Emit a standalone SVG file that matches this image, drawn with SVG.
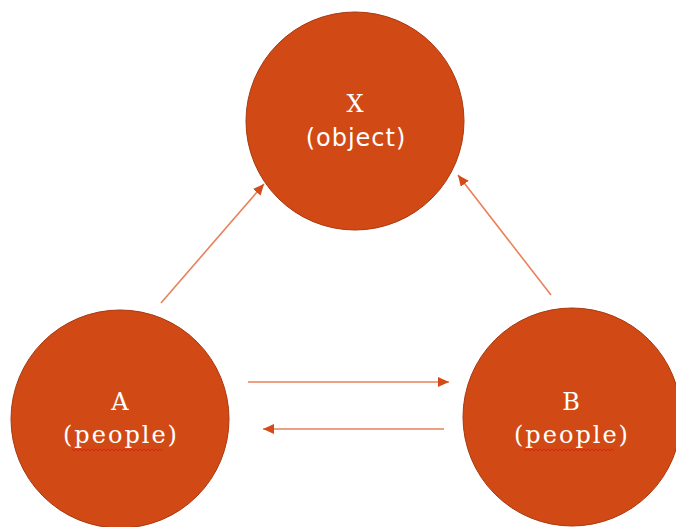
<svg xmlns="http://www.w3.org/2000/svg" width="676" height="527" viewBox="0 0 676 527">
<style>
.node{fill:#D14A16;stroke:#A8380F;stroke-width:1}
.lbl{fill:#ffffff;font-family:"DejaVu Serif","Liberation Serif",serif;font-size:24px;letter-spacing:2px;text-anchor:middle}
.sub{fill:#ffffff;font-family:"DejaVu Sans","Liberation Sans",sans-serif;font-size:24px;letter-spacing:1px;text-anchor:middle}
.edge{stroke:#E9815A;stroke-width:1.6;fill:none;marker-end:url(#ah)}
.sq{stroke:#E0201A;stroke-width:1;fill:none}
</style>
<defs>
<marker id="ah" markerUnits="userSpaceOnUse" markerWidth="12" markerHeight="10" refX="11" refY="5" orient="auto">
<path d="M0,0 L11,5 L0,10 Z" fill="#D44A18"/>
</marker>
</defs>
<rect width="676" height="527" fill="#ffffff"/>
<g id="connectors">
<line class="edge" x1="161" y1="303" x2="264" y2="184"/>
<line class="edge" x1="551" y1="295" x2="458" y2="175"/>
<line class="edge" x1="248" y1="382" x2="449" y2="382"/>
<line class="edge" x1="444" y1="429" x2="263" y2="429"/>
</g>
<g id="X">
<circle class="node" cx="355" cy="121" r="109"/>
<text class="lbl" x="356" y="112">X</text>
<text class="sub" x="356" y="146">(object)</text>
</g>
<g id="A">
<circle class="node" cx="120" cy="419" r="109"/>
<text class="lbl" x="121" y="410">A</text>
<text class="lbl" x="121" y="443">(people)</text>
<path class="sq" d="M72,449 l2,2 l2,-2 l2,2 l2,-2 l2,2 l2,-2 l2,2 l2,-2 l2,2 l2,-2 l2,2 l2,-2 l2,2 l2,-2 l2,2 l2,-2 l2,2 l2,-2 l2,2 l2,-2 l2,2 l2,-2 l2,2 l2,-2 l2,2 l2,-2 l2,2 l2,-2 l2,2 l2,-2 l2,2 l2,-2 l2,2 l2,-2 l2,2 l2,-2 l2,2 l2,-2 l2,2 l2,-2 l2,2 l2,-2 l2,2 l2,-2 l2,2"/>
</g>
<g id="B">
<circle class="node" cx="572" cy="417" r="109"/>
<text class="lbl" x="572" y="410">B</text>
<text class="lbl" x="572" y="443">(people)</text>
<path class="sq" d="M524,449 l2,2 l2,-2 l2,2 l2,-2 l2,2 l2,-2 l2,2 l2,-2 l2,2 l2,-2 l2,2 l2,-2 l2,2 l2,-2 l2,2 l2,-2 l2,2 l2,-2 l2,2 l2,-2 l2,2 l2,-2 l2,2 l2,-2 l2,2 l2,-2 l2,2 l2,-2 l2,2 l2,-2 l2,2 l2,-2 l2,2 l2,-2 l2,2 l2,-2 l2,2 l2,-2 l2,2 l2,-2 l2,2 l2,-2 l2,2 l2,-2 l2,2"/>
</g>
</svg>
